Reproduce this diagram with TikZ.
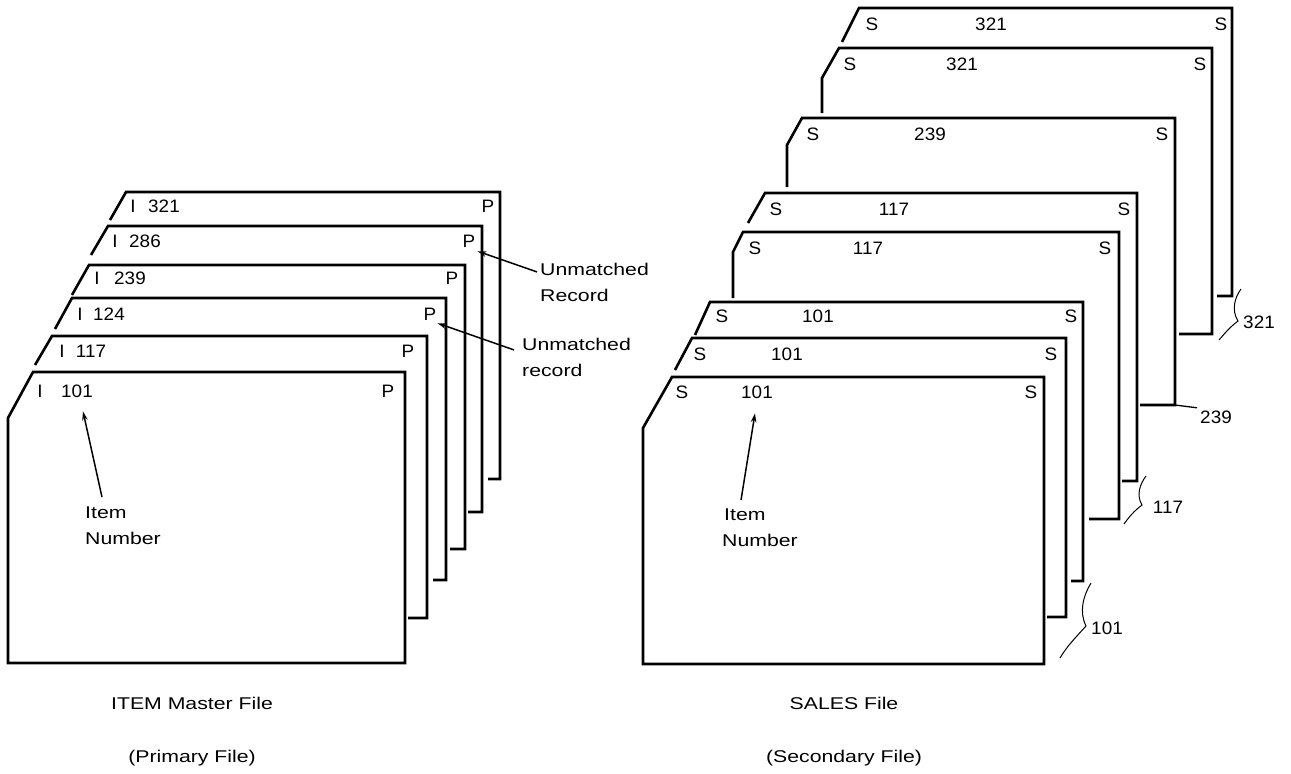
\documentclass[tikz,border=0pt]{standalone}
\usepackage{fontspec}
\setmainfont{Liberation Sans}
\newfontfamily\widefont{Liberation Sans}[FakeStretch=1.25]
\newfontfamily\cardfont{Liberation Sans}[FakeStretch=1.05]
\usetikzlibrary{arrows.meta,calc}
\begin{document}
\begin{tikzpicture}[x=1pt,y=-1pt,
  card/.style={line width=2.6pt, line join=miter, line cap=butt},
  lbl/.style={inner sep=0pt, anchor=base, font=\cardfont\fontsize{18}{21}\selectfont},
  txt/.style={inner sep=0pt, anchor=base west, font=\widefont\fontsize{17}{20}\selectfont},
  capt/.style={inner sep=0pt, anchor=base, font=\widefont\fontsize{17}{20}\selectfont},
  arr/.style={line width=1.5pt, -{Stealth[length=9pt,width=5.5pt]}},
  brc/.style={line width=1pt},
  lead/.style={line width=1.3pt}]
\useasboundingbox (0,0) rectangle (1291,774);

% ---------- left stack (ITEM master file) ----------
\draw[card] (488,479) -- (500,479) -- (500,192) -- (126,192) -- (110,220);
\draw[card] (468,512) -- (482,512) -- (482,226) -- (108,226) -- (91,255);
\draw[card] (450,549) -- (465,549) -- (465,265) -- (89,265) -- (72,295);
\draw[card] (433,580) -- (446,580) -- (446,298) -- (72,298) -- (55,329);
\draw[card] (408,618) -- (427,618) -- (427,336) -- (52,336) -- (35,365);
\draw[card] (33,372) -- (405,372) -- (405,663) -- (8,663) -- (8,418) -- cycle;

\node[lbl] (LI321) at (133,212) {I}; \node[lbl] (LN321) at (164,212) {321}; \node[lbl] (LP321) at (488,212) {P};
\node[lbl] (LI286) at (115,247) {I}; \node[lbl] (LN286) at (145,247) {286}; \node[lbl] (LP286) at (469,247) {P};
\node[lbl] (LI239) at (97,284) {I};  \node[lbl] (LN239) at (130,284) {239}; \node[lbl] (LP239) at (452,284) {P};
\node[lbl] (LI124) at (80,320) {I};  \node[lbl] (LN124) at (109,320) {124}; \node[lbl] (LP124) at (430,320) {P};
\node[lbl] (LI117) at (62,357) {I};  \node[lbl] (LN117) at (91,357) {117};  \node[lbl] (LP117) at (408,357) {P};
\node[lbl] (LI101) at (40,397) {I};  \node[lbl] (LN101) at (77,397) {101};  \node[lbl] (LP101) at (388,397) {P};

\node[txt] (u1a) at (540,275) {Unmatched};
\node[txt] (u1b) at (540,301) {Record};
\node[txt] (u2a) at (522,350) {Unmatched};
\node[txt] (u2b) at (522,376) {record};
\draw[arr] ($(u1a.west)+(-3,3)$) -- ($(LP286.south east)+(2,4)$);
\draw[arr] ($(u2a.west)+(-8,6)$) -- ($(LP124.south east)+(1,3)$);

\node[txt] (itemL) at (85,518) {Item};
\node[txt] (numL) at (85,544) {Number};
\draw[arr] ($(itemL.north west)+(17,-9)$) -- ($(LN101.south)+(6,14)$);

\node[capt] (capL1) at (192,709) {ITEM Master File};
\node[capt] (capL2) at (192,762) {(Primary File)};

% ---------- right stack (SALES file) ----------
\draw[card] (1217,296) -- (1232,296) -- (1232,8) -- (859,8) -- (842,42);
\draw[card] (1179,334) -- (1212,334) -- (1212,48) -- (839,48) -- (822,78) -- (822,113);
\draw[card] (1140,405) -- (1175,405) -- (1175,118) -- (802,118) -- (787,145) -- (787,187);
\draw[card] (1122,481) -- (1137,481) -- (1137,193) -- (765,193) -- (748,223);
\draw[card] (1089,519) -- (1119,519) -- (1119,232) -- (743,232) -- (733,252) -- (733,298);
\draw[card] (1071,581) -- (1083,581) -- (1083,302) -- (710,302) -- (695,335);
\draw[card] (1047,617) -- (1066,617) -- (1066,338) -- (692,338) -- (675,370);
\draw[card] (672,377) -- (1044,377) -- (1044,664) -- (643,664) -- (643,428) -- cycle;

\node[lbl] (RS1a) at (872,30) {S};  \node[lbl] (RN1) at (991,30) {321};  \node[lbl] (RS1b) at (1221,30) {S};
\node[lbl] (RS2a) at (850,70) {S};  \node[lbl] (RN2) at (962,70) {321};  \node[lbl] (RS2b) at (1200,70) {S};
\node[lbl] (RS3a) at (813,140) {S}; \node[lbl] (RN3) at (930,140) {239}; \node[lbl] (RS3b) at (1162,140) {S};
\node[lbl] (RS4a) at (776,215) {S}; \node[lbl] (RN4) at (894,215) {117}; \node[lbl] (RS4b) at (1124,215) {S};
\node[lbl] (RS5a) at (755,254) {S}; \node[lbl] (RN5) at (868,254) {117}; \node[lbl] (RS5b) at (1105,254) {S};
\node[lbl] (RS6a) at (722,322) {S}; \node[lbl] (RN6) at (818,322) {101}; \node[lbl] (RS6b) at (1071,322) {S};
\node[lbl] (RS7a) at (700,360) {S}; \node[lbl] (RN7) at (787,360) {101}; \node[lbl] (RS7b) at (1051,360) {S};
\node[lbl] (RS8a) at (682,398) {S}; \node[lbl] (RN8) at (757,398) {101}; \node[lbl] (RS8b) at (1031,398) {S};

\node[txt] (itemR) at (724,520) {Item};
\node[txt] (numR) at (722,546) {Number};
\draw[arr] ($(itemR.north west)+(17,-8)$) -- ($(RN8.south)+(-2,15)$);

% group braces
\node[lbl] (b321) at (1259,328) {321};
\draw[brc] (1241,289) .. controls (1235,297) and (1231,310) .. (1238,321) .. controls (1230,327) and (1225,333) .. (1219,340);
\node[lbl] (b239) at (1216,423) {239};
\coordinate (f239) at (1175,405);
\draw[lead] (f239) -- ($(b239.west)+(-3,-9)$);
\node[lbl] (b117) at (1168,513) {117};
\draw[brc] (1146,476) .. controls (1140,484) and (1136,495) .. (1142,505) .. controls (1134,511) and (1129,517) .. (1124,524);
\node[lbl] (b101) at (1107,634) {101};
\draw[brc] (1091,583) .. controls (1083,596) and (1079,612) .. (1086,626) .. controls (1077,636) and (1067,646) .. (1060,658);

\node[capt] (capR1) at (844,709) {SALES File};
\node[capt] (capR2) at (844,762) {(Secondary File)};
\end{tikzpicture}
\end{document}
